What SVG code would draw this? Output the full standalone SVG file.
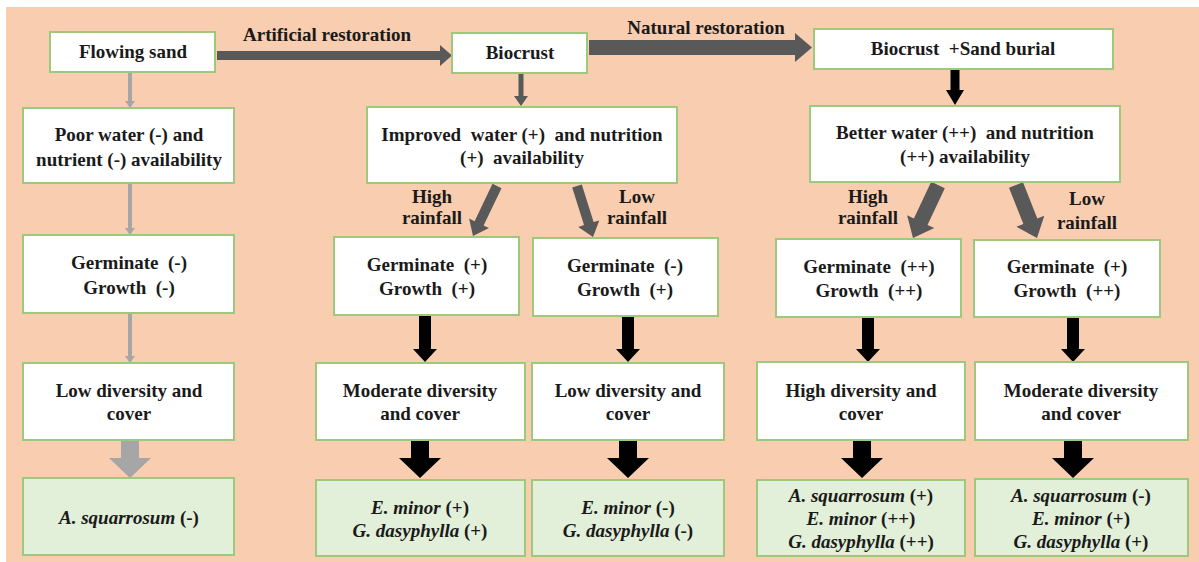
<svg xmlns="http://www.w3.org/2000/svg" width="1199" height="562" viewBox="0 0 1199 562">
<style>
.box{fill:#ffffff;stroke:#9cc97c;stroke-width:2}
.gbox{fill:#e2efd9;stroke:#9cc97c;stroke-width:2}
text{font-family:"Liberation Serif","Times New Roman",serif;font-weight:bold;font-size:19px;fill:#1a1a1a;text-anchor:middle}
.it{font-style:italic}
.lg{fill:#a6a6a6}
.dg{fill:#595959}
.bk{fill:#000000}
</style>
<rect x="0" y="0" width="1199" height="562" fill="#ffffff"/>
<rect x="6" y="7" width="1193" height="555" fill="#f8cdb0"/>
<g id="connectors">
  <polygon class="dg" points="217,51 440,51 440,45 452,55.5 440,66 440,60 217,60"/>
  <polygon class="dg" points="589,40 795,40 795,33 812,47.5 795,62 795,55 589,55"/>
  <polygon class="dg" points="518.5,73 523.5,73 523.5,96 528,96 521,106 514,96 518.5,96"/>
  <polygon class="bk" points="950.5,69 959.5,69 959.5,90 964,90 955,105 946,90 950.5,90"/>
  <polygon class="lg" points="128,72 132,72 132,101 135,101 130,108 125,101 128,101"/>
  <polygon class="lg" points="128,183 132,183 132,228 135,228 130,235 125,228 128,228"/>
  <polygon class="lg" points="128,313 132,313 132,356 135,356 130,363 125,356 128,356"/>
  <polygon class="lg" points="121,440 139,440 139,458 151,458 130,478 109,458 121,458"/>
  <polygon class="dg" points="501.5,188.2 483.6,225.6 489,228.1 473,236 469.1,218.6 474.6,221.2 492.5,183.8"/>
  <polygon class="dg" points="581.8,184.5 593.6,222.1 599.3,220.4 593,237 578.3,226.9 584,225.1 572.2,187.5"/>
  <polygon class="dg" points="944.8,188.2 927.5,224.9 934.3,228.1 913,238 907.1,215.3 913.9,218.5 931.2,181.8"/>
  <polygon class="dg" points="1023,182.2 1037.3,218.5 1044.3,215.7 1037,238 1016.4,226.8 1023.4,224 1009,187.8"/>
  <polygon class="bk" points="419,316 431,316 431,349 437,349 425,362 413,349 419,349"/>
  <polygon class="bk" points="622,316 634,316 634,349 640,349 628,362 616,349 622,349"/>
  <polygon class="bk" points="862,317 874,317 874,349 880,349 868,362 856,349 862,349"/>
  <polygon class="bk" points="1067,317 1079,317 1079,349 1085,349 1073,362 1061,349 1067,349"/>
  <polygon class="bk" points="411,440 429,440 429,458 441,458 420,478 399,458 411,458"/>
  <polygon class="bk" points="619,440 637,440 637,458 649,458 628,478 607,458 619,458"/>
  <polygon class="bk" points="853,440 871,440 871,458 883,458 862,478 841,458 853,458"/>
  <polygon class="bk" points="1064,440 1082,440 1082,458 1094,458 1073,478 1052,458 1064,458"/>
  <text x="327" y="41">Artificial restoration</text>
  <text x="706" y="34">Natural restoration</text>
  <text x="432" y="203">High</text>
  <text x="432" y="224">rainfall</text>
  <text x="637" y="203">Low</text>
  <text x="637" y="224">rainfall</text>
  <text x="868" y="203">High</text>
  <text x="868" y="224">rainfall</text>
  <text x="1087" y="205">Low</text>
  <text x="1087" y="229">rainfall</text>
</g>
<g id="flowing-sand"><rect class="box" x="50" y="32" width="165" height="40"/><text x="133" y="58">Flowing sand</text></g>
<g id="biocrust"><rect class="box" x="452" y="33" width="135" height="40"/><text x="520" y="59">Biocrust</text></g>
<g id="biocrust-sand"><rect class="box" x="814" y="29" width="299" height="40"/><text x="963" y="55" xml:space="preserve">Biocrust  +Sand burial</text></g>
<g id="poor-water"><rect class="box" x="23" y="108" width="211" height="75"/><text x="129" y="141">Poor water (-) and</text><text x="129" y="166">nutrient (-) availability</text></g>
<g id="improved-water"><rect class="box" x="367" y="107" width="310" height="76"/><text x="522" y="141" xml:space="preserve">Improved  water (+)  and nutrition</text><text x="522" y="164" xml:space="preserve">(+)  availability</text></g>
<g id="better-water"><rect class="box" x="810" y="106" width="310" height="76"/><text x="965" y="139" xml:space="preserve">Better water (++)  and nutrition</text><text x="965" y="163">(++) availability</text></g>
<g id="germ-a"><rect class="box" x="23" y="235" width="211" height="78"/><text x="129" y="269" xml:space="preserve">Germinate  (-)</text><text x="129" y="294" xml:space="preserve">Growth  (-)</text></g>
<g id="germ-b"><rect class="box" x="334" y="237" width="185" height="78"/><text x="427" y="271" xml:space="preserve">Germinate  (+)</text><text x="427" y="295" xml:space="preserve">Growth  (+)</text></g>
<g id="germ-c"><rect class="box" x="533" y="238" width="185" height="78"/><text x="625" y="272" xml:space="preserve">Germinate  (-)</text><text x="625" y="296" xml:space="preserve">Growth  (+)</text></g>
<g id="germ-d"><rect class="box" x="776" y="239" width="185" height="78"/><text x="869" y="273" xml:space="preserve">Germinate  (++)</text><text x="869" y="297" xml:space="preserve">Growth  (++)</text></g>
<g id="germ-e"><rect class="box" x="974" y="240" width="186" height="77"/><text x="1067" y="273" xml:space="preserve">Germinate  (+)</text><text x="1067" y="297" xml:space="preserve">Growth  (++)</text></g>
<g id="div-a"><rect class="box" x="23" y="363" width="211" height="77"/><text x="129" y="397">Low diversity and</text><text x="129" y="420">cover</text></g>
<g id="div-b"><rect class="box" x="316" y="363" width="209" height="77"/><text x="420" y="397">Moderate diversity</text><text x="420" y="420">and cover</text></g>
<g id="div-c"><rect class="box" x="532" y="363" width="192" height="77"/><text x="628" y="397">Low diversity and</text><text x="628" y="420">cover</text></g>
<g id="div-d"><rect class="box" x="757" y="362" width="208" height="78"/><text x="861" y="397">High diversity and</text><text x="861" y="420">cover</text></g>
<g id="div-e"><rect class="box" x="975" y="362" width="213" height="78"/><text x="1081" y="397">Moderate diversity</text><text x="1081" y="420">and cover</text></g>
<g id="sp-a"><rect class="gbox" x="23" y="478" width="211" height="77"/><text x="129" y="524"><tspan class="it">A. squarrosum</tspan> (-)</text></g>
<g id="sp-b"><rect class="gbox" x="316" y="480" width="209" height="76"/><text x="420" y="514"><tspan class="it">E. minor</tspan> (+)</text><text x="420" y="537"><tspan class="it">G. dasyphylla</tspan> (+)</text></g>
<g id="sp-c"><rect class="gbox" x="532" y="480" width="192" height="76"/><text x="628" y="514"><tspan class="it">E. minor</tspan> (-)</text><text x="628" y="537"><tspan class="it">G. dasyphylla</tspan> (-)</text></g>
<g id="sp-d"><rect class="gbox" x="757" y="480" width="208" height="76"/><text x="861" y="502"><tspan class="it">A. squarrosum</tspan> (+)</text><text x="861" y="525"><tspan class="it">E. minor</tspan> (++)</text><text x="861" y="548"><tspan class="it">G. dasyphylla</tspan> (++)</text></g>
<g id="sp-e"><rect class="gbox" x="975" y="479" width="213" height="77"/><text x="1081" y="502"><tspan class="it">A. squarrosum</tspan> (-)</text><text x="1081" y="525"><tspan class="it">E. minor</tspan> (+)</text><text x="1081" y="548"><tspan class="it">G. dasyphylla</tspan> (+)</text></g>
</svg>
